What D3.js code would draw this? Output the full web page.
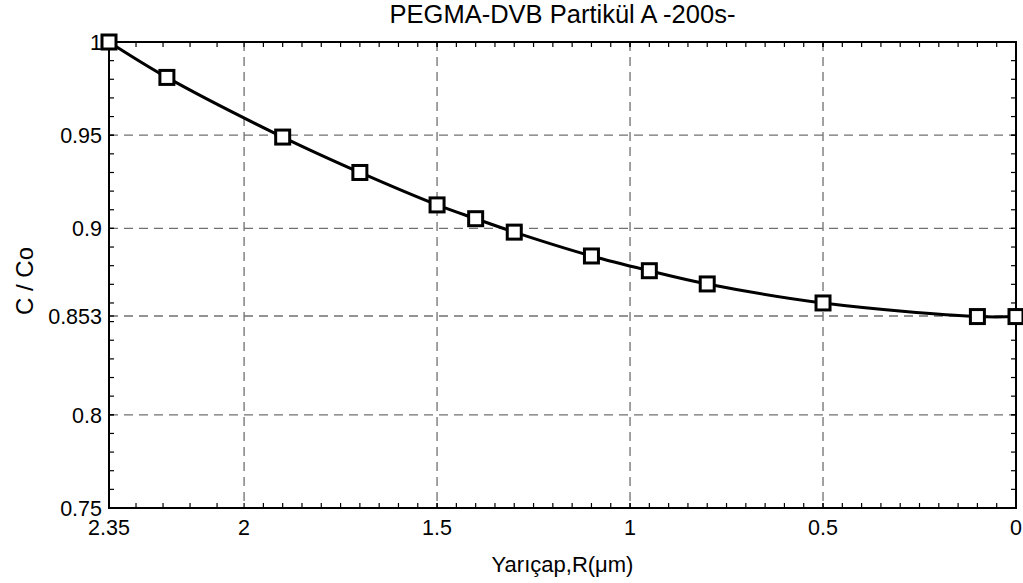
<!DOCTYPE html>
<html>
<head>
<meta charset="utf-8">
<script src="https://cdn.jsdelivr.net/npm/d3@7"></script>
<style>
  body { margin: 0; background: #fff; }
  text { font-family: "Liberation Sans", Arial, sans-serif; fill: #000; }
</style>
</head>
<body>
<svg id="chart" width="1023" height="583"></svg>
<script>
"use strict";

var radius = [2.35, 2.2, 1.9, 1.7, 1.5, 1.4, 1.3, 1.1, 0.95, 0.8, 0.5, 0.1, 0];
var ratio  = [1.0, 0.981, 0.949, 0.930, 0.9126, 0.9052, 0.898, 0.8852, 0.8773, 0.8702, 0.860, 0.8527, 0.8527];

var xTicks = [2.35, 2, 1.5, 1, 0.5, 0];
var yTicks = [0.75, 0.8, 0.853, 0.9, 0.95, 1];

var titleText = "PEGMA-DVB Partikül A -200s-";
var xTitle = "Yarıçap,R(μm)";
var yTitle = "C / Co";

var plotLeft = 109, plotRight = 1016, plotTop = 42, plotBottom = 508;

var svg = d3.select("#chart");

var x = d3.scaleLinear().domain([2.35, 0]).range([plotLeft, plotRight]);
var y = d3.scaleLinear().domain([0.75, 1]).range([plotBottom, plotTop]);

// minor ticks: 0.07 steps between 2 and 2.35, 0.05 steps below 2
var xMinor = d3.range(0, 2, 0.05).concat([2.07, 2.14, 2.21, 2.28]);
var yMinor = d3.range(0.76, 1, 0.01);

// grid
var grid = svg.append("g")
    .attr("stroke", "#707070")
    .attr("stroke-width", 1.3)
    .attr("stroke-dasharray", "9,6");

grid.selectAll(".gx").data(xTicks.slice(1, -1)).enter().append("line")
    .attr("x1", function (d) { return x(d); })
    .attr("x2", function (d) { return x(d); })
    .attr("y1", plotTop).attr("y2", plotBottom);

grid.selectAll(".gy").data(yTicks.slice(1, -1)).enter().append("line")
    .attr("y1", function (d) { return y(d); })
    .attr("y2", function (d) { return y(d); })
    .attr("x1", plotLeft).attr("x2", plotRight);

// minor / major ticks on all four sides, pointing inward
var ticks = svg.append("g").attr("stroke", "#000").attr("stroke-width", 1.2);
var allX = xMinor.concat(xTicks);
var allY = yMinor.concat(yTicks);

ticks.selectAll(".tb").data(allX).enter().append("line")
    .attr("x1", function (d) { return x(d); }).attr("x2", function (d) { return x(d); })
    .attr("y1", plotBottom).attr("y2", plotBottom - 5);
ticks.selectAll(".tt").data(allX).enter().append("line")
    .attr("x1", function (d) { return x(d); }).attr("x2", function (d) { return x(d); })
    .attr("y1", plotTop).attr("y2", plotTop + 5);
ticks.selectAll(".tl").data(allY).enter().append("line")
    .attr("y1", function (d) { return y(d); }).attr("y2", function (d) { return y(d); })
    .attr("x1", plotLeft).attr("x2", plotLeft + 5);
ticks.selectAll(".tr").data(allY).enter().append("line")
    .attr("y1", function (d) { return y(d); }).attr("y2", function (d) { return y(d); })
    .attr("x1", plotRight).attr("x2", plotRight - 5);

// frame
svg.append("rect")
    .attr("x", plotLeft).attr("y", plotTop)
    .attr("width", plotRight - plotLeft).attr("height", plotBottom - plotTop)
    .attr("fill", "none").attr("stroke", "#000").attr("stroke-width", 2);

// tick labels
svg.append("g").selectAll("text").data(xTicks).enter().append("text")
    .attr("x", function (d) { return x(d); })
    .attr("y", 535)
    .attr("text-anchor", function (d) { return d === 0 ? "end" : "middle"; })
    .attr("dx", function (d) { return d === 0 ? 6 : 0; })
    .style("font-size", "21.5px")
    .text(function (d) { return String(d); });

svg.append("g").selectAll("text").data(yTicks).enter().append("text")
    .attr("x", plotLeft - 7)
    .attr("y", function (d) { return y(d); })
    .attr("dy", "0.36em")
    .attr("text-anchor", "end")
    .style("font-size", "21.5px")
    .text(function (d) { return String(d); });

// titles
svg.append("text")
    .attr("x", (plotLeft + plotRight) / 2).attr("y", 23)
    .attr("text-anchor", "middle")
    .style("font-size", "25.5px")
    .text(titleText);

svg.append("text")
    .attr("x", (plotLeft + plotRight) / 2).attr("y", 572)
    .attr("text-anchor", "middle")
    .style("font-size", "22px")
    .text(xTitle);

svg.append("text")
    .attr("transform", "translate(33,281) rotate(-90)")
    .attr("text-anchor", "middle")
    .style("font-size", "24px")
    .text(yTitle);

// curve
var points = radius.map(function (r, i) { return [r, ratio[i]]; });

var line = d3.line()
    .x(function (d) { return x(d[0]); })
    .y(function (d) { return y(d[1]); })
    .curve(d3.curveCatmullRom);

svg.append("path")
    .datum(points)
    .attr("d", line)
    .attr("fill", "none")
    .attr("stroke", "#000")
    .attr("stroke-width", 3);

var size = 14;
svg.append("g").selectAll("rect").data(points).enter().append("rect")
    .attr("x", function (d) { return x(d[0]) - size / 2; })
    .attr("y", function (d) { return y(d[1]) - size / 2; })
    .attr("width", size).attr("height", size)
    .attr("fill", "#fff")
    .attr("stroke", "#000")
    .attr("stroke-width", 3);
</script>
</body>
</html>
